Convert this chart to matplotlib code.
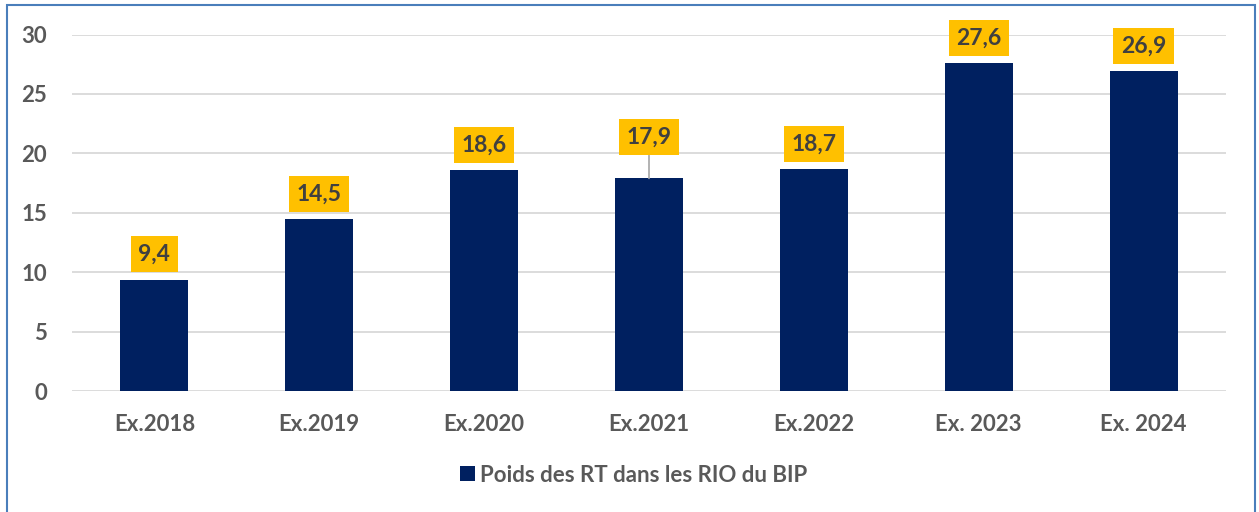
import matplotlib.pyplot as plt
from matplotlib.patches import Rectangle

categories = ['Ex.2018', 'Ex.2019', 'Ex.2020', 'Ex.2021', 'Ex.2022', 'Ex. 2023', 'Ex. 2024']
values = [9.4, 14.5, 18.6, 17.9, 18.7, 27.6, 26.9]
labels = ['9,4', '14,5', '18,6', '17,9', '18,7', '27,6', '26,9']
series_name = 'Poids des RT dans les RIO du BIP'

plt.rcParams['font.family'] = ['Lato', 'DejaVu Sans']
plt.rcParams['font.weight'] = 'bold'

fig = plt.figure(figsize=(12.59, 5.12), dpi=100)
ax = fig.add_axes([72 / 1259, 120.7 / 512, 1154 / 1259, 356.8 / 512])

x = range(len(values))
ax.bar(x, values, width=0.412, color='#002060', label=series_name, zorder=3)

ax.set_xlim(-0.5, 6.5)
ax.set_ylim(0, 30)
ax.set_yticks([0, 5, 10, 15, 20, 25, 30])
ax.set_xticks(list(x))
ax.set_xticklabels(categories)
ax.tick_params(axis='both', length=0, labelsize=16, colors='#595959')
ax.tick_params(axis='y', pad=18)
ax.tick_params(axis='x', pad=16)
for lab in ax.get_xticklabels() + ax.get_yticklabels():
    lab.set_fontweight('bold')
for s in ax.spines.values():
    s.set_visible(False)
ax.grid(axis='y', color='#D9D9D9', linewidth=1.3, zorder=0)

# data labels in yellow boxes
for i, v in enumerate(values):
    off = 10.5
    arrow = None
    if i == 3:
        # this one was moved up in the original, with a leader line
        off = 22
        arrow = dict(arrowstyle='-', color='#A6A6A6', lw=1.2, shrinkA=0, shrinkB=0)
    ax.annotate(labels[i], xy=(i, v), xytext=(0, off), textcoords='offset points',
                ha='center', va='bottom', fontsize=16.5, fontweight='bold', color='#404040',
                bbox=dict(boxstyle='square,pad=0.33', fc='#FFC000', ec='none'),
                arrowprops=arrow, annotation_clip=False, zorder=4)

ax.legend(loc='center', bbox_to_anchor=(634 / 1259, 1 - 475 / 512),
          bbox_transform=fig.transFigure, frameon=False,
          handlelength=0.65, handleheight=0.65, handletextpad=0.25,
          labelcolor='#595959', prop={'weight': 'bold', 'size': 16})

# chart border
fig.patches.append(Rectangle((7 / 1259, -0.05), 1248 / 1259, 1 - 5 / 512 + 0.05,
                             transform=fig.transFigure, fill=False,
                             edgecolor='#4A7EBB', linewidth=1.5))

plt.savefig('out.png', dpi=100)
